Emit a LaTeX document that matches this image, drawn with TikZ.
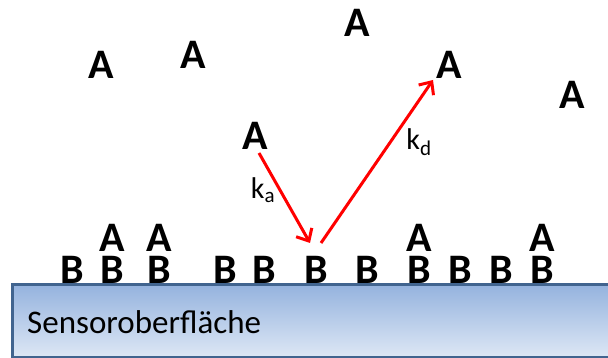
\documentclass[tikz,border=0pt]{standalone}
\usepackage{fontspec}
\setmainfont{Carlito}
\usetikzlibrary{arrows.meta,calc}
\definecolor{surftop}{HTML}{95B3DE}
\definecolor{surfbot}{HTML}{DDE7F5}
\definecolor{surfline}{HTML}{41648F}
\tikzset{
  mol/.style={inner sep=0pt,anchor=center,font=\fontsize{42}{42}\selectfont\bfseries},
  rate/.style={inner sep=0pt,anchor=center,font=\fontsize{30}{30}\selectfont},
  arr/.style={draw=red,line width=3pt,-{Straight Barb[length=10pt,width=18pt,line width=3pt]}}
}
\begin{document}
\begin{tikzpicture}[x=1pt,y=-1pt]
\useasboundingbox (0,0) rectangle (608,358);
% surface
\shade[top color=surftop,bottom color=surfbot] (12,285) rectangle (612,357);
\draw[surfline,line width=3pt] (612,285) -- (12,285) -- (12,357) -- (612,357);
\node[inner sep=0pt,anchor=base west,font=\fontsize{33}{33}\selectfont] (surf) at (27,333) {Sensoroberfläche};
% free A molecules
\node[mol] (a1) at (101,65) {A};
\node[mol] (a2) at (193,55) {A};
\node[mol] (a3) at (357,23) {A};
\node[mol] (aK) at (449,65) {A};
\node[mol] (a5) at (572,95) {A};
\node[mol] (aF) at (255,136) {A};
% B row
\foreach \x [count=\i] in {72,112,159,225,264,316,367,419,460,501,542}
  \node[mol] (b\i) at (\x,269.5) {B};
% bound A
\foreach \x/\n in {112/2,159/3,419/8,542/11}
  \node[mol] (ab\n) at (\x,238) {A};
% arrows
\coordinate (kaS) at (259,153);
\coordinate (kaE) at (310,243);
\coordinate (kdS) at (321,243);
\coordinate (kdE) at (433,80);
\draw[arr] (kaS) -- (kaE);
\draw[arr] (kdS) -- (kdE);
\node[rate] (ka) at (263,190) {k\textsubscript{a}};
\node[rate] (kd) at (419,142) {k\textsubscript{d}};
\end{tikzpicture}
\end{document}
